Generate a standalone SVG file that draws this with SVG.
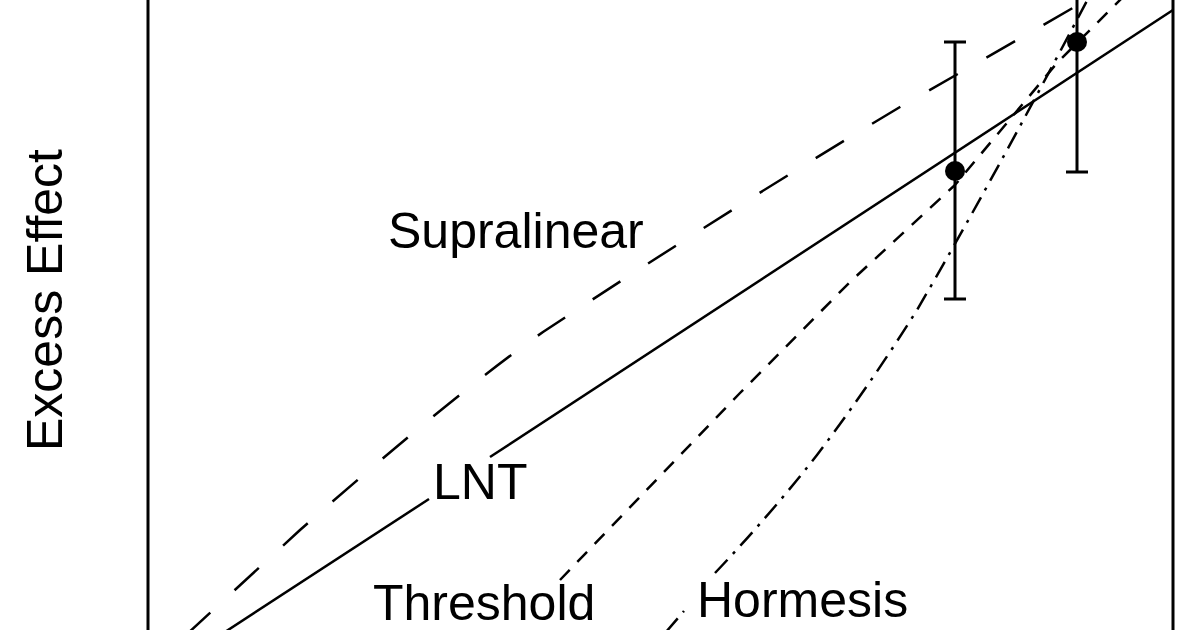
<svg xmlns="http://www.w3.org/2000/svg" width="1200" height="630" viewBox="0 0 1200 630">
<style>
.c{fill:none;stroke:#000;stroke-width:2.5;stroke-linejoin:round}
.t{font-family:"Liberation Sans",Arial,sans-serif;font-size:50px;fill:#000}
.e{stroke:#000;stroke-width:3;fill:none}
</style>
<rect width="1200" height="630" fill="#fff"/>
<g id="frame"><line class="e" x1="148" y1="-5" x2="148" y2="640"/><line class="e" x1="1173" y1="-5" x2="1173" y2="640"/></g>
<g id="curves">
<polyline id="lnt" class="c" points="225,632 429,499"/>
<polyline class="c" points="490,457 1173,10"/>
<path id="supralinear" class="c" stroke-dasharray="33 33" d="M186,635 L300,530 Q457,392 543,332 Q720,215 900,107 Q1000,50 1090,-2"/>
<polyline id="threshold" class="c" stroke-dasharray="14 11" points="560,580 740,393 850,282 955,185 1057,63 1125,-5"/>
<polyline id="hormesis" class="c" stroke-dasharray="18 8 3 8" points="666,632 684,611"/>
<path class="c" stroke-dasharray="18 8 3 8" d="M715,573 Q770,515 817,455 Q870,385 917,310 Q990,185 1090,-5"/>
</g>
<g id="points">
<path class="e" d="M955,42V299M944,42H966M944,299H966"/>
<circle cx="955" cy="171" r="10"/>
<path class="e" d="M1077,-5V172M1066,172H1088"/>
<circle cx="1077" cy="42" r="10"/>
</g>
<g id="labels">
<text class="t" x="388" y="248">Supralinear</text>
<text class="t" x="433" y="499">LNT</text>
<text class="t" x="373" y="620">Threshold</text>
<text class="t" x="697" y="617">Hormesis</text>
<text class="t" transform="translate(62,300) rotate(-90)" text-anchor="middle">Excess Effect</text>
</g>
</svg>
